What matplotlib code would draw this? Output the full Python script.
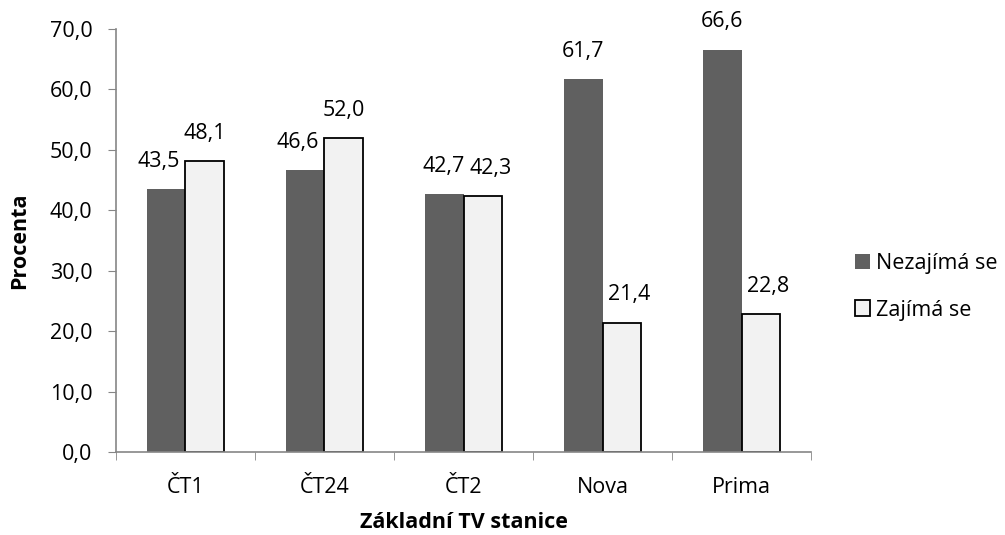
import matplotlib
matplotlib.use("Agg")
import matplotlib.pyplot as plt
import numpy as np

plt.rcParams['font.family'] = ['Open Sans', 'DejaVu Sans']

stations = ['ČT1', 'ČT24', 'ČT2', 'Nova', 'Prima']
not_interested = [43.5, 46.6, 42.7, 61.7, 66.6]
interested = [48.1, 52.0, 42.3, 21.4, 22.8]
series_names = ['Nezajímá se', 'Zajímá se']

fs = 15.5
fig = plt.figure(figsize=(10.05, 5.35), dpi=100)
ax = fig.add_axes([0.1154, 0.1551, 0.6916, 0.7907])

x = np.arange(len(stations))
w = 0.28
b1 = ax.bar(x - w / 2, not_interested, w, color='#606060', label=series_names[0])
b2 = ax.bar(x + w / 2, interested, w, color='#f2f2f2', edgecolor='black',
            linewidth=1.3, label=series_names[1])

ax.set_xlim(-0.5, len(stations) - 0.5)
ax.set_ylim(0, 70)

# value labels, pushed apart sideways when the two in a group collide
labels = []
for bars in (b1, b2):
    row = []
    for r in bars:
        t = ax.annotate(f"{r.get_height():.1f}".replace('.', ','),
                        (r.get_x() + r.get_width() / 2, r.get_height()),
                        xytext=(0, 16), textcoords='offset points',
                        ha='center', va='baseline', fontsize=fs)
        row.append(t)
    labels.append(row)

fig.canvas.draw()
rend = fig.canvas.get_renderer()
for i in range(len(stations)):
    left, right = labels[0][i], labels[1][i]
    bl = left.get_window_extent(rend)
    br = right.get_window_extent(rend)
    overlap = bl.x1 - br.x0 + 4
    if overlap > 0:
        dx = overlap * 72 / fig.dpi
        if not_interested[i] < interested[i]:
            left.xyann = (-dx, 16)
        else:
            right.xyann = (dx, 16)

ax.set_yticks(np.arange(0, 71, 10))
ax.set_yticklabels([f"{v:.1f}".replace('.', ',') for v in np.arange(0, 71, 10)])
ax.set_xticks(x)
ax.set_xticklabels(stations)
ax.set_xticks(np.arange(-0.5, len(stations), 1), minor=True)
ax.tick_params(axis='x', which='major', length=0, pad=18, labelsize=fs)
ax.tick_params(axis='x', which='minor', length=6, color='#868686')
ax.tick_params(axis='y', length=6, color='#868686', labelsize=fs, pad=11)

for s in ['top', 'right']:
    ax.spines[s].set_visible(False)
for s in ['left', 'bottom']:
    ax.spines[s].set_color('#868686')
    ax.spines[s].set_linewidth(1.2)

ax.set_xlabel('Základní TV stanice', fontsize=fs, fontweight='bold', labelpad=10)
ax.set_ylabel('Procenta', fontsize=fs, fontweight='bold', labelpad=14)

ax.legend(loc='center left', bbox_to_anchor=(1.035, 0.391), frameon=False,
          fontsize=fs, handlelength=0.7, handleheight=0.7, handletextpad=0.3,
          labelspacing=1.2)

fig.savefig('out.png', dpi=100)
